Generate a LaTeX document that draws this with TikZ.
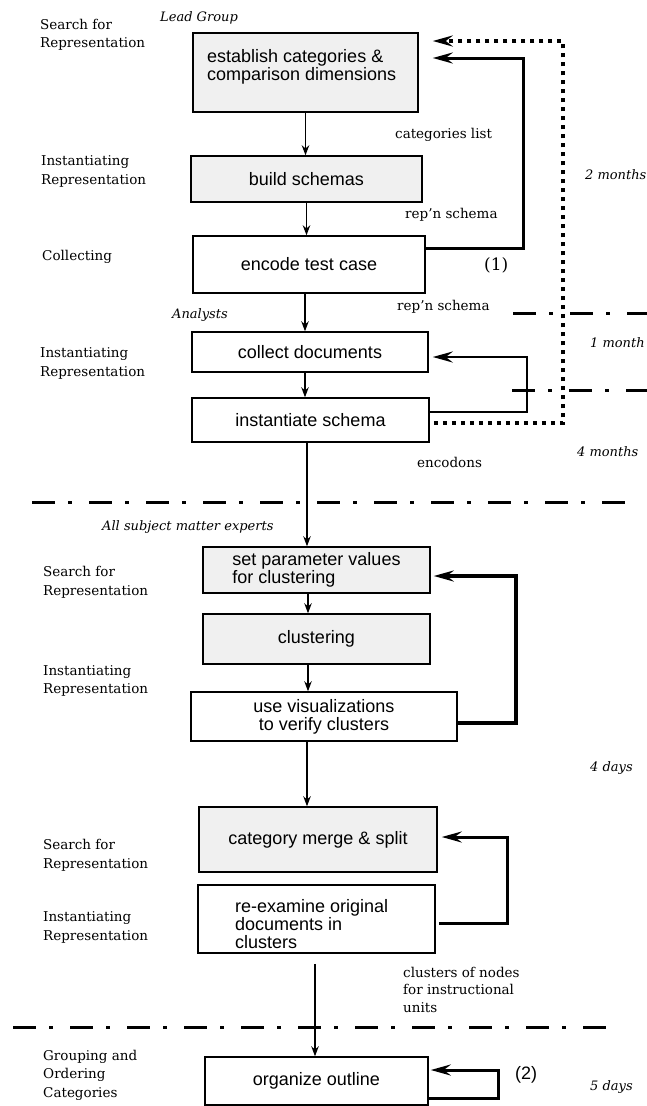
\documentclass[tikz,border=0pt]{standalone}
\usepackage{fontspec}
\setmainfont{DejaVu Serif}
\newfontfamily\boxfont{Liberation Sans}
\usetikzlibrary{arrows.meta}
\begin{document}
\begin{tikzpicture}[x=1pt,y=-1pt,
  box/.style={draw, line width=1.5pt, inner sep=0pt, align=center,
    font=\boxfont\fontsize{18}{18}\selectfont},
  btxt/.style={inner sep=0pt, align=left, font=\boxfont\fontsize{18}{18}\selectfont},
  shaded/.style={fill=black!6},
  flow/.style={line width=1.2pt, -{Stealth[length=10pt,width=7.5pt]}},
  fb/.style={line width=3pt, -{Stealth[length=20pt,width=11pt,inset=7pt]}},
  fbdot/.style={line width=3.5pt, dash pattern=on 4pt off 5pt, -{Stealth[length=20pt,width=11pt,inset=7pt]}},
  phase/.style={line width=3pt, dash pattern=on 23pt off 13pt on 4pt off 17pt},
  lab/.style={inner sep=0pt, align=left, anchor=west, font=\fontsize{13.5}{18.5}\selectfont},
  ilab/.style={inner sep=0pt, align=left, anchor=west, font=\itshape\fontsize{13}{18.5}\selectfont},
]
\useasboundingbox (0,0) rectangle (647,1106);

% boxes
\node[box,shaded,minimum width=225pt,minimum height=79pt] (b1) at (305.5,72.5) {};
\node[btxt,anchor=north west] (t1) at (207,49) {establish categories \&\\comparison dimensions};
\node[box,shaded,minimum width=231pt,minimum height=46pt] (b2) at (306.5,179) {build schemas};
\node[box,minimum width=232pt,minimum height=57pt] (b3) at (309,264.5) {encode test case};
\node[box,minimum width=236pt,minimum height=40pt] (b4) at (310,352) {collect documents};
\node[box,minimum width=237pt,minimum height=44pt] (b5) at (310.5,420) {instantiate schema};
\node[box,shaded,align=left,minimum width=227pt,minimum height=46pt] (b6) at (316.5,570) {set parameter values\\for clustering};
\node[box,shaded,minimum width=227pt,minimum height=50pt] (b7) at (316.5,639) {clustering};
\node[box,minimum width=266pt,minimum height=49pt] (b8) at (324,716.5) {use visualizations\\to verify clusters};
\node[box,shaded,minimum width=238pt,minimum height=65pt] (b9) at (318,839.5) {category merge \& split};
\node[box,minimum width=237pt,minimum height=68pt] (b10) at (316.5,919) {};
\node[btxt,anchor=north west] (t10) at (235,899) {re-examine original\\documents in\\clusters};
\node[box,minimum width=223pt,minimum height=48pt] (b11) at (316.5,1081) {organize outline};

% main flow
\coordinate (a1) at (b1.south);
\coordinate (a2) at (b2.south);
\coordinate (a3) at ([xshift=-4pt]b3.south);
\coordinate (a4) at ([xshift=-5pt]b4.south);
\coordinate (a5) at ([xshift=-3.5pt]b5.south);
\coordinate (a6) at ([xshift=-8.5pt]b6.south);
\coordinate (a7) at ([xshift=-8.5pt]b7.south);
\coordinate (a8) at ([xshift=-17pt]b8.south);
\coordinate (a10) at ([xshift=-1.5pt,yshift=-10pt]b10.south);
\draw[flow] (a1) -- (a1 |- b2.north);
\draw[flow] (a2) -- (a2 |- b3.north);
\draw[flow] (a3) -- (a3 |- b4.north);
\draw[flow] (a4) -- (a4 |- b5.north);
\draw[flow] (a5) -- (a5 |- b6.north);
\draw[flow] (a6) -- (a6 |- b7.north);
\draw[flow] (a7) -- (a7 |- b8.north);
\draw[flow] (a8) -- (a8 |- b9.north);
\draw[flow] (a10) -- (a10 |- b11.north);

% feedback loops
\draw[fb,shorten >=14pt] (b3.east |- 0,248) -- (523,248) -- (523,58) -- (b1.east |- 0,58);
\draw[fbdot,shorten >=14pt,shorten <=4pt] (b5.east |- 0,423) -- (563,423) -- (563,41) -- (b1.east |- 0,41);
\draw[fb,line width=2.6pt,shorten >=4pt] (b5.east |- 0,412) -- (527,412) -- (527,357) -- (b4.east |- 0,357);
\draw[fb,line width=3.5pt,shorten >=3pt] (b8.east |- 0,723) -- (516,723) -- (516,576) -- (b6.east |- 0,576);
\draw[fb,shorten >=4pt,shorten <=3pt] (b10.east |- 0,923) -- (507,923) -- (507,837) -- (b9.east |- 0,837);
\draw[fb,shorten >=2pt] (b11.east |- 0,1098) -- (498,1098) -- (498,1070) -- (b11.east |- 0,1070);

% phase separators
\draw[phase] (513,313) -- (647,313);
\draw[phase] (512,390) -- (647,390);
\draw[phase] (32,502) -- (637,502);
\draw[phase] (13,1027) -- (618,1027);

% left labels
\node[lab] (l1) at (40,35) {Search for\\Representation};
\node[lab] (l2) at (41,171.5) {Instantiating\\Representation};
\node[lab] (l3) at (42,257) {Collecting};
\node[lab] (l4) at (40,363.5) {Instantiating\\Representation};
\node[lab] (l5) at (43,582.5) {Search for\\Representation};
\node[lab] (l6) at (43,681) {Instantiating\\Representation};
\node[lab] (l7) at (43,855.5) {Search for\\Representation};
\node[lab] (l8) at (43,927.5) {Instantiating\\Representation};
\node[lab] (l9) at (43,1075) {Grouping and\\Ordering\\Categories};

% italic labels
\node[ilab] (g1) at (160,18) {Lead Group};
\node[ilab] (g2) at (172,315) {Analysts};
\node[ilab] (g3) at (102,527) {All subject matter experts};
\node[ilab] (d1) at (585,175) {2 months};
\node[ilab] (d2) at (590,343) {1 month};
\node[ilab] (d3) at (577,452) {4 months};
\node[ilab] (d4) at (590,768) {4 days};
\node[ilab] (d5) at (590,1087) {5 days};

% data labels
\node[lab] (c1) at (395,135) {categories list};
\node[lab] (c2) at (405,215) {rep'n schema};
\node[lab,font=\fontsize{17}{17}\selectfont] (n1) at (484,265) {(1)};
\node[lab] (c3) at (397,307) {rep'n schema};
\node[lab] (c4) at (417,462) {encodons};
\node[lab,font=\fontsize{13.5}{17.5}\selectfont] (c5) at (403,989.5) {clusters of nodes\\for instructional\\units};
\node[lab,font=\boxfont\fontsize{18}{18}\selectfont] (n2) at (515,1075) {(2)};
\end{tikzpicture}
\end{document}
